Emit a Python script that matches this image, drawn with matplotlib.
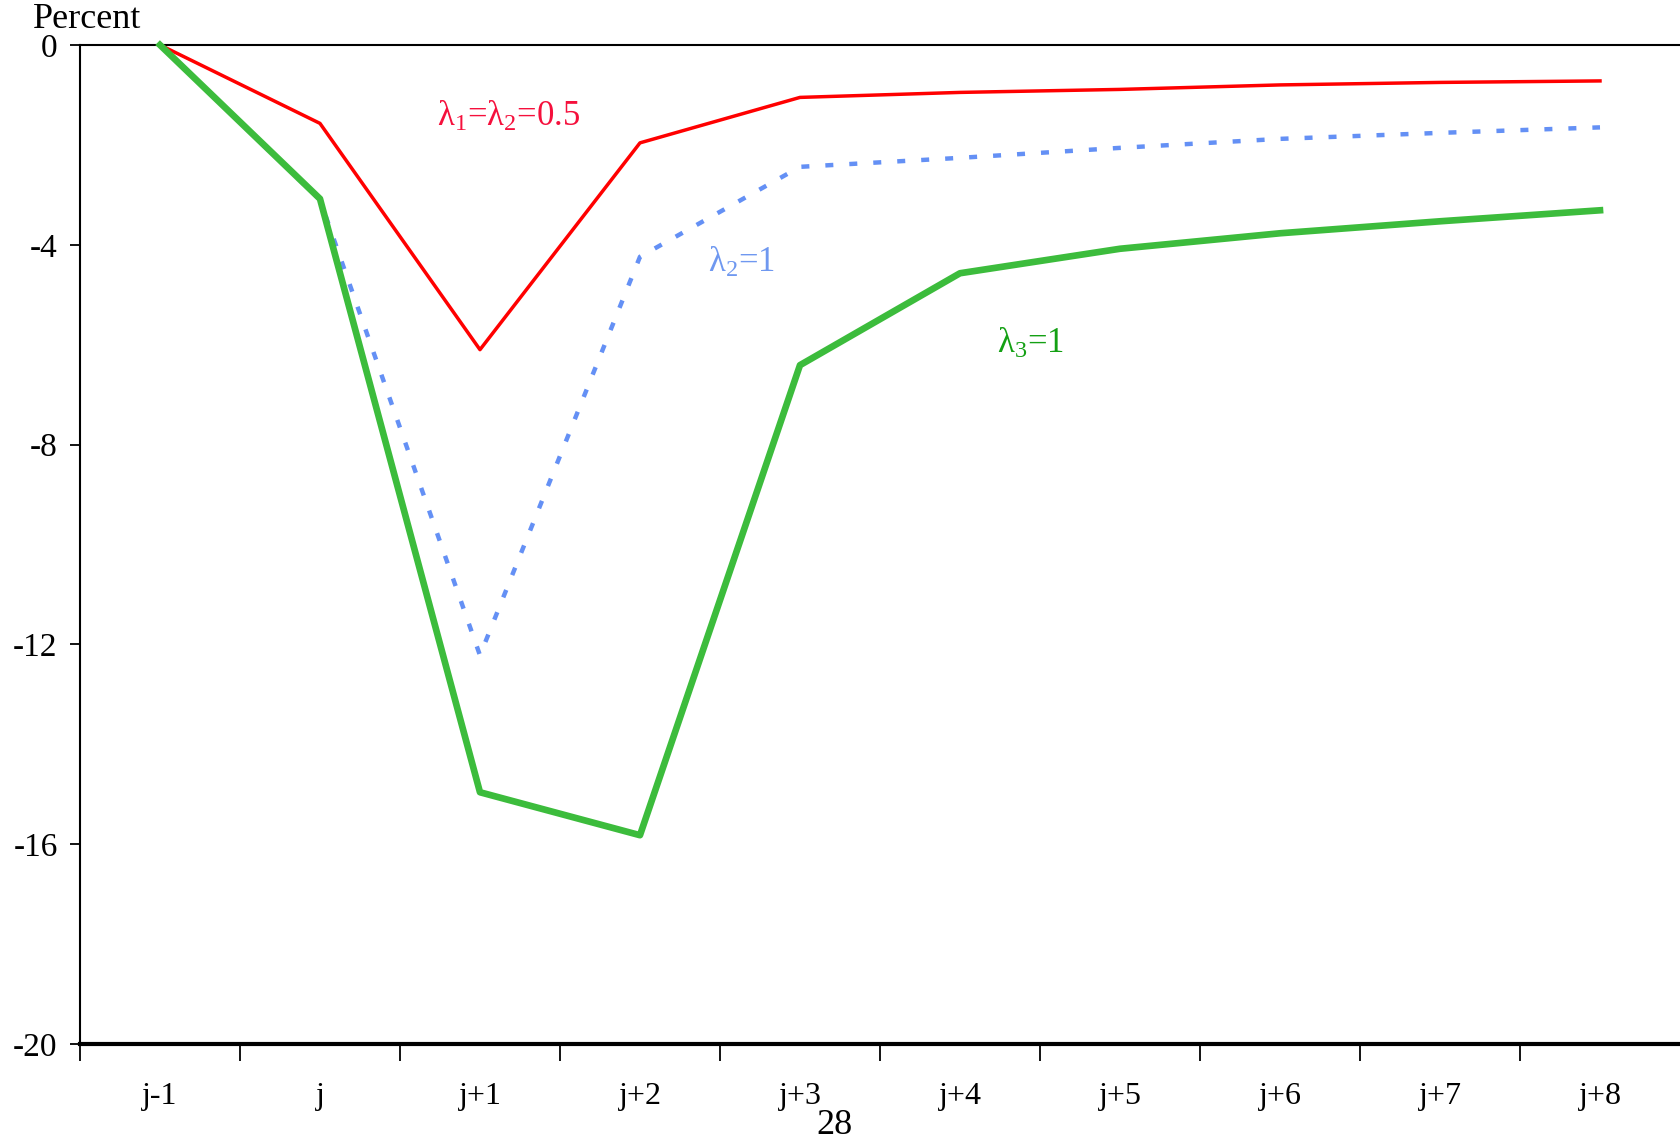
import numpy as np
import matplotlib

matplotlib.use("Agg")
import matplotlib.pyplot as plt

# periods and responses (percent)
periods = ["j-1", "j", "j+1", "j+2", "j+3", "j+4", "j+5", "j+6", "j+7", "j+8"]
resp_half = [0, -1.57, -6.10, -1.96, -1.05, -0.95, -0.89, -0.80, -0.75, -0.72]
resp_l2 = [0, -3.10, -12.22, -4.24, -2.44, -2.26, -2.06, -1.88, -1.76, -1.65]
resp_l3 = [0, -3.08, -14.96, -15.82, -6.41, -4.57, -4.08, -3.77, -3.53, -3.31]
yticks = [0, -4, -8, -12, -16, -20]

RED = "#ff0000"
BLUE = "#6490f5"
GREEN = "#3cbc3c"

plt.rcParams["font.family"] = ["Liberation Serif", "DejaVu Serif"]
plt.rcParams["mathtext.fontset"] = "custom"
plt.rcParams["mathtext.rm"] = "Liberation Serif"
plt.rcParams["mathtext.it"] = "Liberation Serif:italic"
plt.rcParams["axes.unicode_minus"] = False


def main():
    fig = plt.figure(figsize=(16.8, 11.41), dpi=100)
    ax = fig.add_axes([0.0476, 0.085, 0.9524, 0.8756])

    x = np.arange(len(periods)) + 0.5
    ax.plot(x, resp_half, color=RED, lw=2.5, clip_on=False, zorder=3)
    ax.plot(x, resp_l2, color=BLUE, lw=3.2, ls=(0, (1.8, 3.6)),
            dash_capstyle="butt", clip_on=False, zorder=2)
    ax.plot(x, resp_l3, color=GREEN, lw=4.8, clip_on=False, zorder=4)

    ax.set_xlim(0, len(periods))
    ax.set_ylim(-20, 0)

    # boundary ticks without labels, labels centred in each period
    ax.set_xticks(np.arange(len(periods)))
    ax.set_xticklabels([])
    ax.set_xticks(x, minor=True)
    ax.set_xticklabels(periods, minor=True)
    ax.tick_params(axis="x", which="major", direction="out", length=12, width=1.3)
    ax.tick_params(axis="x", which="minor", length=0, pad=27, labelsize=23)

    ax.set_yticks(yticks)
    ax.set_yticklabels([str(v) for v in yticks])
    ax.tick_params(axis="y", direction="out", length=7, width=1.3, pad=9, labelsize=24)

    ax.spines["right"].set_visible(False)
    ax.spines["top"].set_linewidth(1.5)
    ax.spines["left"].set_linewidth(1.5)
    ax.spines["bottom"].set_linewidth(3.0)

    ax.text(2.23, -1.62, r"λ$_1$=λ$_2$=0.5", color="#f5103c", fontsize=25, va="baseline")
    ax.text(3.925, -4.54, r"λ$_2$=1", color="#6f98f0", fontsize=25, va="baseline")
    ax.text(5.73, -6.17, r"λ$_3$=1", color="#14a014", fontsize=25, va="baseline")

    fig.text(33 / 1680, 1 - 28 / 1141, "Percent", fontsize=26, va="baseline")
    fig.text(834 / 1680, 1 - 1134 / 1141, "28", fontsize=26, ha="center", va="baseline")

    fig.savefig("out.png", dpi=100)
    plt.close(fig)


if __name__ == "__main__":
    main()
